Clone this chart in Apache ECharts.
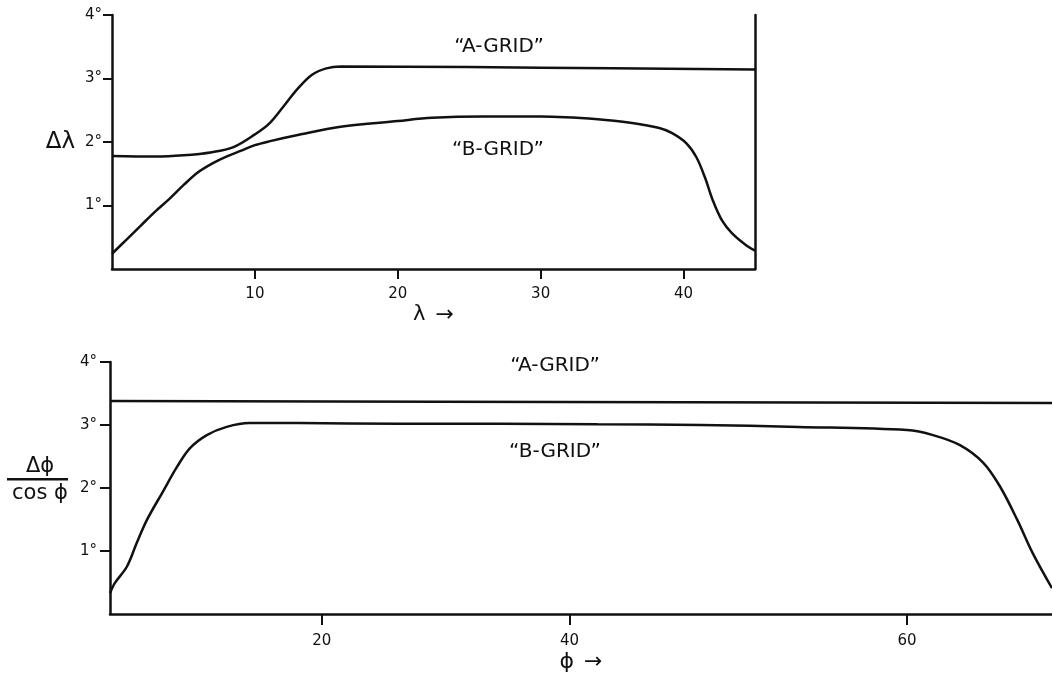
<!DOCTYPE html>
<html>
<head>
<meta charset="utf-8">
<script src="https://cdn.jsdelivr.net/npm/echarts@6/dist/echarts.min.js"></script>
<style>
  html, body { margin: 0; padding: 0; background: #fff; }
  #chart { width: 1052px; height: 675px; }
</style>
</head>
<body>
<div id="chart"></div>
<script>
// top panel: grid spacing in longitude (deg) vs lambda
var TOP_X_TICKS = [10, 20, 30, 40];
var TOP_A_LAMBDA = [0, 3, 5, 7, 8.5, 10, 11, 12, 13, 14, 15, 16, 25, 35, 45];
var TOP_A_VALUE = [1.78, 1.77, 1.79, 1.84, 1.92, 2.12, 2.29, 2.56, 2.84, 3.06, 3.16, 3.19, 3.18, 3.16, 3.14];
var TOP_B_LAMBDA = [0, 1, 2, 3, 4, 5, 6, 7, 8, 9, 10, 11, 13, 16, 20, 22.4, 26, 30, 34, 36.4, 38.3, 39.2, 40.2, 40.9, 41.5, 42.05, 42.7, 43.4, 44.4, 45];
var TOP_B_VALUE = [0.24, 0.46, 0.68, 0.9, 1.1, 1.32, 1.52, 1.66, 1.77, 1.86, 1.95, 2.01, 2.11, 2.24, 2.33, 2.38, 2.40, 2.40, 2.36, 2.30, 2.22, 2.14, 1.98, 1.76, 1.44, 1.08, 0.76, 0.56, 0.37, 0.29];

// bottom panel: grid spacing in latitude / cos(phi) vs phi (Mercator-spaced axis)
var BOT_X_TICKS = [20, 40, 60];
var PHI_MIN = 0.5, PHI_MAX = 66.15;
var BOT_A_PHI = [0.5, 30, 66.15];
var BOT_A_VALUE = [3.38, 3.37, 3.35];
var BOT_B_PHI = [0.5, 0.95, 2.08, 3.02, 3.96, 5.46, 6.77, 7.98, 9.56, 11.4, 13.5, 18, 26.7, 34.8, 42, 48.8, 54.5, 60, 61.2, 62.4, 63.4, 64.1, 64.8, 65.4, 66.15];
var BOT_B_VALUE = [0.33, 0.49, 0.75, 1.13, 1.49, 1.94, 2.33, 2.63, 2.84, 2.97, 3.03, 3.03, 3.02, 3.02, 3.01, 3.0, 2.97, 2.92, 2.84, 2.68, 2.40, 2.02, 1.49, 0.97, 0.41];

var Y_TICKS = [1, 2, 3, 4];

var FONT = 'DejaVu Sans';
var INK = '#111';

function merc(deg) {
    var r = deg * Math.PI / 180;
    return Math.log(Math.tan(Math.PI / 4 + r / 2));
}
function invMerc(m) {
    return Math.asin(Math.tanh(m)) * 180 / Math.PI;
}
function zip(xs, ys, fx) {
    return xs.map(function(x, i) { return [fx ? fx(x) : x, ys[i]]; });
}

var chart = echarts.init(document.getElementById('chart'));

var axisLine = { show: true, lineStyle: { color: INK, width: 2.5 } };
var labelStyle = { color: INK, fontFamily: FONT, fontSize: 15 };

function lineSeries(xi, yi, data, smooth) {
    return {
        type: 'line',
        xAxisIndex: xi,
        yAxisIndex: yi,
        data: data,
        showSymbol: false,
        smooth: smooth,
        lineStyle: { color: INK, width: 2.5 },
        silent: true
    };
}

var option = {
    backgroundColor: '#fff',
    animation: false,
    grid: [
        { left: 112, right: 297, top: 15, bottom: 406 },
        { left: 110, right: 0, top: 362, bottom: 61 }
    ],
    xAxis: [{
        type: 'value', gridIndex: 0, min: 0, max: 45,
        axisLine: axisLine,
        axisTick: { show: true, length: 10, lineStyle: { color: INK, width: 2 }, customValues: TOP_X_TICKS },
        axisLabel: Object.assign({ margin: 18, customValues: TOP_X_TICKS }, labelStyle),
        splitLine: { show: false },
        name: '{l|λ}   {a|→}', nameLocation: 'middle', nameGap: 35,
        nameTextStyle: { rich: {
            l: { fontFamily: FONT, fontSize: 21, color: INK },
            a: { fontFamily: FONT, fontSize: 22, color: INK }
        } }
    }, {
        type: 'value', gridIndex: 1, min: merc(PHI_MIN), max: merc(PHI_MAX),
        axisLine: axisLine,
        axisTick: { show: true, length: 11, lineStyle: { color: INK, width: 2 }, customValues: BOT_X_TICKS.map(merc) },
        axisLabel: Object.assign({
            margin: 20, customValues: BOT_X_TICKS.map(merc),
            formatter: function(v) { return String(Math.round(invMerc(v))); }
        }, labelStyle),
        splitLine: { show: false },
        name: '{l|ϕ}   {a|→}', nameLocation: 'middle', nameGap: 37,
        nameTextStyle: { rich: {
            l: { fontFamily: FONT, fontSize: 22, color: INK },
            a: { fontFamily: FONT, fontSize: 22, color: INK }
        } }
    }],
    yAxis: [{
        type: 'value', gridIndex: 0, min: 0, max: 4,
        axisLine: axisLine,
        axisTick: { show: true, length: 9, lineStyle: { color: INK, width: 2 }, customValues: Y_TICKS },
        axisLabel: Object.assign({ margin: 10, customValues: Y_TICKS, formatter: '{value}°' }, labelStyle),
        splitLine: { show: false },
        name: 'Δλ', nameLocation: 'middle', nameRotate: 0, nameGap: 37,
        nameTextStyle: { fontFamily: FONT, fontSize: 23, color: INK }
    }, {
        type: 'value', gridIndex: 0, min: 0, max: 4, position: 'right',
        axisLine: axisLine,
        axisTick: { show: false }, axisLabel: { show: false }, splitLine: { show: false }
    }, {
        type: 'value', gridIndex: 1, min: 0, max: 4,
        axisLine: axisLine,
        axisTick: { show: true, length: 10, lineStyle: { color: INK, width: 2 }, customValues: Y_TICKS },
        axisLabel: Object.assign({ margin: 13, customValues: Y_TICKS, formatter: '{value}°' }, labelStyle),
        splitLine: { show: false }
    }],
    series: [
        lineSeries(0, 0, zip(TOP_A_LAMBDA, TOP_A_VALUE), 0.35),
        lineSeries(0, 0, zip(TOP_B_LAMBDA, TOP_B_VALUE), 0.35),
        lineSeries(1, 2, zip(BOT_A_PHI, BOT_A_VALUE, merc), false),
        lineSeries(1, 2, zip(BOT_B_PHI, BOT_B_VALUE, merc), 0.35)
    ],
    graphic: [
        { type: 'text', x: 499, y: 47, style: { text: '“A-GRID”', font: '20px "DejaVu Sans"', fill: INK, align: 'center', verticalAlign: 'middle' } },
        { type: 'text', x: 498, y: 150, style: { text: '“B-GRID”', font: '20px "DejaVu Sans"', fill: INK, align: 'center', verticalAlign: 'middle' } },
        { type: 'text', x: 555, y: 366, style: { text: '“A-GRID”', font: '20px "DejaVu Sans"', fill: INK, align: 'center', verticalAlign: 'middle' } },
        { type: 'text', x: 555, y: 452, style: { text: '“B-GRID”', font: '20px "DejaVu Sans"', fill: INK, align: 'center', verticalAlign: 'middle' } },
        // bottom y-axis name drawn as a fraction
        { type: 'text', x: 40, y: 467, style: { text: 'Δϕ', font: '21px "DejaVu Sans"', fill: INK, align: 'center', verticalAlign: 'middle' } },
        { type: 'rect', shape: { x: 7, y: 478, width: 61, height: 2.5 }, style: { fill: INK } },
        { type: 'text', x: 40, y: 494, style: { text: 'cos ϕ', font: '21px "DejaVu Sans"', fill: INK, align: 'center', verticalAlign: 'middle' } }
    ]
};

chart.setOption(option);
</script>
</body>
</html>
